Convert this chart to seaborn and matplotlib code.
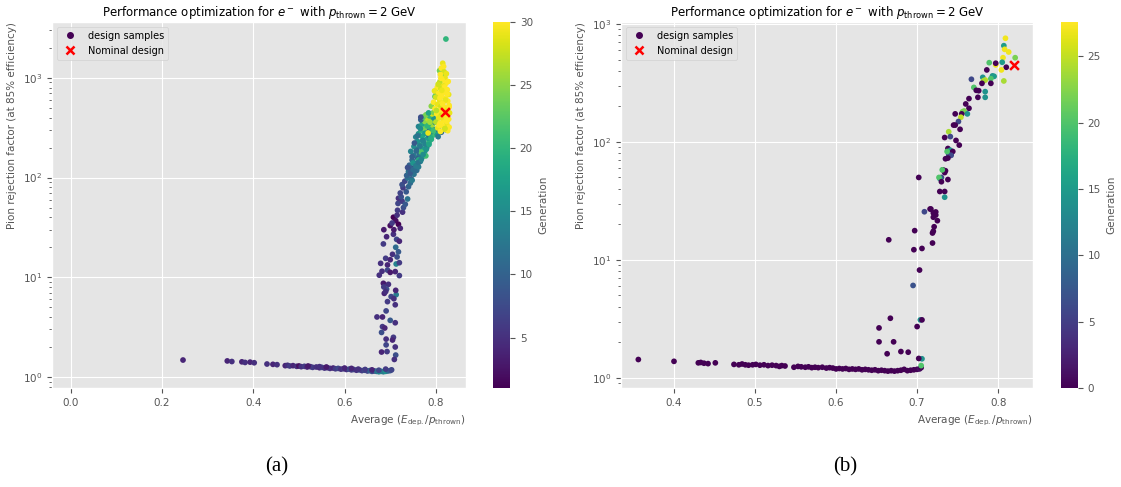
import matplotlib
matplotlib.use("Agg")
import matplotlib.pyplot as plt
import seaborn as sns
from matplotlib.lines import Line2D

# ---------------- panel (a): Edep/p vs pion rejection, colored by generation
# tail (flat part) / rise / band 30-100 / band 100-250 / band 250-450 / top cloud
left_x = [
    0.246, 0.343, 0.353, 0.375, 0.382, 0.393, 0.402, 0.430, 0.443, 0.452, 0.470, 0.475, 0.480, 0.487, 0.495, 0.500,
    0.505, 0.512, 0.518, 0.525, 0.530, 0.538, 0.545, 0.550, 0.556, 0.562, 0.568, 0.575, 0.580, 0.586, 0.592, 0.598,
    0.604, 0.610, 0.615, 0.620, 0.626, 0.632, 0.638, 0.644, 0.650, 0.655, 0.660, 0.665, 0.670, 0.675, 0.680, 0.685,
    0.690, 0.695, 0.700, 0.703, 0.520, 0.545, 0.560, 0.600, 0.615, 0.630, 0.645, 0.660, 0.675, 0.690,
    0.679, 0.694, 0.713, 0.720, 0.676, 0.694, 0.711, 0.720, 0.685, 0.696, 0.692, 0.687, 0.713, 0.694, 0.711, 0.691,
    0.671, 0.683, 0.700, 0.711, 0.683, 0.688, 0.681, 0.707, 0.691, 0.705, 0.691, 0.711, 0.693, 0.681, 0.712, 0.709,
    0.686, 0.692, 0.685, 0.707, 0.714, 0.720, 0.712, 0.718, 0.705, 0.690, 0.700, 0.715, 0.682, 0.700, 0.686, 0.690,
    0.712, 0.702, 0.708,
    0.700, 0.707, 0.712, 0.718, 0.704, 0.722, 0.715, 0.708, 0.716, 0.727, 0.729, 0.717, 0.726, 0.733, 0.718, 0.724,
    0.738, 0.722, 0.735, 0.728, 0.740, 0.726, 0.744, 0.732, 0.746, 0.738, 0.748,
    0.736, 0.745, 0.752, 0.740, 0.758, 0.748, 0.762, 0.742, 0.755, 0.766, 0.748, 0.760, 0.770, 0.752, 0.764, 0.775,
    0.745, 0.758, 0.770, 0.780, 0.752, 0.765, 0.776, 0.785, 0.760, 0.772, 0.790, 0.782, 0.768, 0.762, 0.778, 0.750,
    0.756, 0.770, 0.785, 0.795, 0.762, 0.778, 0.790, 0.800, 0.768, 0.783, 0.795, 0.775, 0.788, 0.762, 0.780, 0.792,
    0.770, 0.785, 0.798, 0.776, 0.790, 0.767, 0.782, 0.795, 0.772, 0.786, 0.778, 0.792, 0.784, 0.805, 0.812, 0.803,
    0.824, 0.805, 0.767,
    0.744, 0.750, 0.756, 0.738, 0.762, 0.768, 0.748, 0.772, 0.757, 0.779, 0.765, 0.785, 0.753, 0.771, 0.789, 0.760,
    0.776, 0.794, 0.766, 0.782,
    0.808, 0.815, 0.800, 0.798, 0.790, 0.795, 0.787,
    0.815, 0.812, 0.818, 0.810, 0.820, 0.814, 0.808, 0.822, 0.816, 0.803, 0.811, 0.825, 0.797, 0.818, 0.806, 0.828,
    0.813, 0.800, 0.821, 0.808, 0.826, 0.795, 0.815, 0.803, 0.829, 0.811, 0.820, 0.798, 0.826, 0.807, 0.816, 0.830,
    0.802, 0.812, 0.823, 0.806, 0.828, 0.817, 0.800, 0.809, 0.824, 0.814, 0.829, 0.804, 0.819, 0.826, 0.810, 0.783,
    0.817, 0.823, 0.811, 0.827, 0.805, 0.819, 0.813, 0.825, 0.809, 0.821, 0.815, 0.829, 0.801, 0.818, 0.812, 0.824,
    0.807, 0.820,
    0.822,
]
left_y = [
    1.48, 1.45, 1.43, 1.42, 1.40, 1.41, 1.39, 1.35, 1.34, 1.33, 1.30, 1.31, 1.29, 1.30, 1.28, 1.29,
    1.27, 1.28, 1.26, 1.27, 1.25, 1.26, 1.24, 1.25, 1.23, 1.24, 1.22, 1.23, 1.21, 1.22, 1.20, 1.21,
    1.19, 1.20, 1.18, 1.19, 1.17, 1.18, 1.16, 1.17, 1.15, 1.16, 1.14, 1.15, 1.14, 1.13, 1.14, 1.13,
    1.14, 1.15, 1.16, 1.18, 1.29, 1.27, 1.26, 1.23, 1.22, 1.20, 1.19, 1.18, 1.17, 1.20,
    13.8, 13.3, 13.6, 14.0, 10.5, 11.8, 11.4, 10.4, 8.7, 8.5, 7.6, 6.9, 6.7, 5.7, 5.3, 4.6,
    4.0, 4.0, 3.7, 3.5, 3.2, 3.1, 2.8, 2.5, 2.4, 2.35, 2.1, 2.0, 1.8, 1.78, 1.66, 1.5,
    30, 25.5, 21.6, 27, 24, 23, 20, 18, 17, 15.5, 15, 16, 11.5, 11.2, 8.0, 7.2,
    7.4, 6.4, 6.1,
    33, 40, 37, 34, 35, 31, 42, 30, 47, 45, 50, 55, 58, 54, 62, 64,
    61, 70, 72, 79, 81, 85, 88, 92, 97, 99, 94,
    105, 110, 108, 115, 118, 124, 128, 133, 139, 145, 150, 157, 160, 167, 172, 178,
    183, 190, 195, 200, 205, 212, 218, 225, 230, 238, 242, 248, 180, 150, 165, 140,
    255, 260, 265, 268, 275, 282, 288, 290, 298, 300, 305, 312, 318, 325, 330, 338,
    345, 350, 358, 365, 372, 380, 388, 395, 405, 415, 425, 435, 445, 300, 285, 270,
    300, 257, 403,
    112, 120, 131, 126, 142, 152, 162, 170, 185, 192, 207, 215, 222, 235, 250, 262,
    278, 295, 310, 330,
    1180, 1050, 720, 650, 520, 450, 360,
    1400, 1250, 1150, 1080, 1000, 950, 900, 880, 830, 800, 780, 760, 740, 720, 700, 680,
    660, 640, 620, 600, 585, 570, 560, 540, 530, 515, 500, 490, 480, 470, 455, 445,
    435, 420, 410, 395, 385, 370, 360, 350, 340, 330, 320, 315, 305, 295, 290, 280,
    1300, 1100, 990, 920, 860, 810, 750, 690, 630, 600, 545, 510, 470, 430, 400, 365,
    335, 310,
    2450,
]
left_gen = [
    4, 4, 5, 4, 5, 4, 5, 5, 4, 5, 4, 5, 6, 4, 5, 2,
    5, 6, 4, 5, 6, 5, 4, 7, 5, 6, 5, 4, 6, 7, 5, 6,
    5, 8, 6, 7, 5, 9, 6, 8, 7, 10, 8, 6, 12, 14, 15, 13,
    16, 11, 9, 7, 3, 5, 3, 4, 4, 5, 6, 4, 7, 6,
    5, 4, 14, 6, 5, 7, 4, 6, 3, 5, 8, 4, 13, 6, 5, 7,
    5, 4, 9, 5, 6, 4, 8, 6, 5, 4, 7, 5, 6, 4, 8, 5,
    3, 4, 6, 5, 7, 4, 11, 9, 5, 6, 4, 8, 5, 3, 6, 5,
    4, 7, 5,
    2, 1, 2, 1, 6, 4, 5, 3, 6, 5, 8, 7, 6, 9, 5, 8,
    12, 7, 9, 6, 10, 8, 11, 7, 9, 12, 13,
    10, 9, 12, 12, 11, 8, 13, 10, 12, 14, 11, 9, 15, 13, 12, 16,
    14, 10, 17, 13, 15, 18, 14, 20, 16, 13, 19, 17, 22, 19, 21, 16,
    14, 18, 11, 21, 16, 13, 15, 23, 20, 12, 17, 24, 19, 14, 22, 26,
    18, 21, 15, 25, 19, 10, 27, 16, 22, 20, 24, 28, 18, 13, 11, 17,
    14, 13, 8,
    9, 11, 13, 8, 12, 14, 10, 15, 11, 16, 13, 18, 9, 14, 19, 12,
    17, 21, 15, 20,
    24, 22, 25, 23, 25, 24, 26,
    29, 30, 28, 30, 29, 30, 27, 30, 29, 30, 28, 30, 29, 30, 30, 29,
    30, 28, 30, 29, 30, 30, 30, 29, 30, 28, 30, 30, 29, 30, 30, 29,
    30, 28, 30, 29, 30, 30, 27, 30, 29, 30, 30, 29, 28, 30, 30, 29,
    30, 29, 30, 30, 28, 30, 29, 30, 30, 29, 30, 30, 27, 30, 29, 30,
    30, 28,
    20,
]
left_nominal = (0.820, 455)

# ---------------- panel (b)
right_x = [
    0.356, 0.400, 0.430, 0.433, 0.437, 0.442, 0.451,
    0.474, 0.480, 0.484, 0.488, 0.492, 0.497, 0.501, 0.506, 0.511, 0.516, 0.521, 0.526, 0.530, 0.533, 0.537,
    0.548, 0.553, 0.557, 0.562, 0.566, 0.570, 0.574, 0.578, 0.583, 0.588, 0.592, 0.596,
    0.600, 0.604, 0.608, 0.612, 0.616, 0.620, 0.624, 0.628, 0.632, 0.636, 0.640, 0.644, 0.648, 0.652, 0.656, 0.660,
    0.664, 0.668, 0.672, 0.676, 0.680, 0.684, 0.688, 0.692, 0.696, 0.700, 0.703, 0.705,
    0.705, 0.706, 0.702,
    0.653, 0.653, 0.667, 0.671, 0.663, 0.680, 0.689, 0.704, 0.706, 0.700, 0.695, 0.703, 0.696, 0.706, 0.665, 0.697,
    0.719, 0.719, 0.720, 0.721, 0.725, 0.723, 0.723, 0.717, 0.709,
    0.809, 0.807, 0.808, 0.813, 0.821, 0.806, 0.797, 0.805, 0.810, 0.804, 0.789, 0.797, 0.786, 0.807, 0.793, 0.795,
    0.781, 0.784, 0.782, 0.791, 0.780, 0.791, 0.767, 0.770, 0.773, 0.776, 0.784, 0.784, 0.775, 0.764, 0.760, 0.764,
    0.758, 0.756, 0.762, 0.755, 0.747, 0.754, 0.751, 0.745, 0.747, 0.753, 0.739, 0.741, 0.734, 0.748, 0.752, 0.738,
    0.741, 0.744, 0.742, 0.739, 0.742, 0.737, 0.735, 0.738, 0.732, 0.735, 0.734, 0.731, 0.730, 0.728, 0.727, 0.738,
    0.730, 0.702, 0.728, 0.734, 0.734, 0.716, 0.720, 0.720,
]
right_y = [
    1.43, 1.38, 1.34, 1.35, 1.33, 1.32, 1.34,
    1.30, 1.29, 1.31, 1.29, 1.28, 1.29, 1.30, 1.28, 1.29, 1.27, 1.28, 1.27, 1.25, 1.27, 1.26,
    1.23, 1.25, 1.24, 1.23, 1.24, 1.22, 1.23, 1.22, 1.23, 1.21, 1.22, 1.21,
    1.19, 1.20, 1.19, 1.20, 1.18, 1.19, 1.18, 1.19, 1.17, 1.18, 1.17, 1.16, 1.17, 1.15, 1.16, 1.15,
    1.14, 1.15, 1.14, 1.15, 1.16, 1.18, 1.15, 1.16, 1.17, 1.18, 1.19, 1.22,
    1.27, 1.45, 1.46,
    2.65, 2.02, 3.2, 2.02, 1.6, 1.67, 1.65, 3.1, 3.1, 2.72, 6.07, 8.2, 12.2, 12.5, 14.8, 17.7,
    13.9, 16.9, 17.5, 19.1, 21.5, 24, 25.5, 27, 25.6,
    757, 655, 610, 579, 518, 518, 450, 474, 430, 408, 470, 465, 408, 329, 363, 360,
    353, 335, 330, 344, 314, 314, 340, 290, 274, 272, 267, 239, 239, 233, 210, 193,
    183, 180, 173, 173, 173, 162, 149, 139, 139, 128, 122, 111, 109, 103, 94, 88,
    85, 83, 80, 78, 77, 83, 72, 73, 58, 57, 55, 58, 50, 49, 50, 48,
    46, 50, 38, 38, 34, 27, 25, 23,
]
right_gen = [
    0, 0, 0, 0, 0, 0, 0,
    0, 0, 0, 0, 0, 0, 0, 0, 0, 0, 0, 0, 0, 0, 0,
    0, 0, 0, 0, 0, 0, 0, 0, 0, 0, 0, 0,
    0, 0, 0, 0, 0, 0, 0, 0, 0, 0, 0, 0, 0, 0, 0, 0,
    0, 0, 0, 0, 0, 0, 0, 0, 0, 0, 1, 0,
    20, 14, 0,
    0, 0, 0, 0, 0, 0, 0, 14, 0, 0, 7, 0, 0, 0, 0, 0,
    0, 0, 0, 0, 0, 0, 0, 0, 6,
    27, 15, 27, 27, 22, 27, 27, 15, 0, 27, 20, 0, 0, 24, 14, 15,
    14, 25, 24, 20, 0, 0, 6, 20, 0, 0, 14, 14, 0, 0, 0, 0,
    22, 22, 14, 0, 0, 25, 6, 0, 0, 0, 24, 6, 0, 0, 0, 0,
    14, 0, 0, 6, 6, 20, 0, 0, 0, 0, 0, 20, 6, 14, 20, 0,
    0, 0, 0, 0, 14, 0, 0, 0,
]
right_nominal = (0.819, 450)

assert len(left_x) == len(left_y) == len(left_gen)
assert len(right_x) == len(right_y) == len(right_gen)

plt.style.use("ggplot")
plt.rcParams["font.family"] = ["DejaVu Sans"]

TITLE = r"Performance optimization for $e^-$ with $p_{\mathrm{thrown}} = 2$ GeV"
XLABEL = r"Average ($E_{\mathrm{dep.}}/p_{\mathrm{thrown}}$)"
YLABEL = "Pion rejection factor (at 85% efficiency)"


def draw_panel(fig, ax, cax, x, y, gen, vmin, vmax, nominal, xlim, ylim, xticks):
    sns.scatterplot(x=x, y=y, hue=gen, palette="viridis", hue_norm=(vmin, vmax),
                    s=17, linewidth=0, legend=False, ax=ax)
    ax.scatter([nominal[0]], [nominal[1]], marker="x", color="red", s=40, linewidths=1.8, zorder=5)
    ax.set_yscale("log")
    ax.set_xlim(*xlim)
    ax.set_ylim(*ylim)
    ax.set_xticks(xticks)
    ax.tick_params(labelsize=7.5)
    ax.set_title(TITLE, fontsize=8.5, pad=4)
    ax.set_xlabel(XLABEL, fontsize=7.5, loc="right", labelpad=4)
    ax.set_ylabel(YLABEL, fontsize=7.5, loc="top", labelpad=4)

    handles = [
        Line2D([], [], marker="o", linestyle="none", color=plt.get_cmap("viridis")(0.0),
               markersize=4, label="design samples"),
        Line2D([], [], marker="x", linestyle="none", color="red", markersize=6,
               markeredgewidth=1.8, label="Nominal design"),
    ]
    ax.legend(handles=handles, loc="upper left", fontsize=7, framealpha=0.8)

    sm = plt.cm.ScalarMappable(cmap="viridis", norm=plt.Normalize(vmin, vmax))
    cb = fig.colorbar(sm, cax=cax)
    cb.outline.set_visible(False)
    cb.ax.tick_params(labelsize=7.5)
    cb.set_label("Generation", fontsize=7.5)


fig = plt.figure(figsize=(11.21, 4.87), dpi=100)
W, H = 1121.0, 487.0


def box(x0, x1, y0, y1):
    return [x0 / W, 1 - y1 / H, (x1 - x0) / W, (y1 - y0) / H]


ax1 = fig.add_axes(box(52, 466, 22, 388))
cax1 = fig.add_axes(box(493, 510, 22, 388))
ax2 = fig.add_axes(box(621, 1033, 22, 388))
cax2 = fig.add_axes(box(1061, 1078, 22, 388))

draw_panel(fig, ax1, cax1, left_x, left_y, left_gen, 1, 30, left_nominal,
           (-0.041, 0.866), (0.776, 3630), [0.0, 0.2, 0.4, 0.6, 0.8])
draw_panel(fig, ax2, cax2, right_x, right_y, right_gen, 0, 27.6, right_nominal,
           (0.3346, 0.843), (0.82, 1040), [0.4, 0.5, 0.6, 0.7, 0.8])

fig.text(277 / W, 1 - 467 / H, "(a)", family="Liberation Serif", fontsize=15, ha="center", va="center")
fig.text(845 / W, 1 - 467 / H, "(b)", family="Liberation Serif", fontsize=15, ha="center", va="center")

fig.savefig("out.png", dpi=100, facecolor="white")
